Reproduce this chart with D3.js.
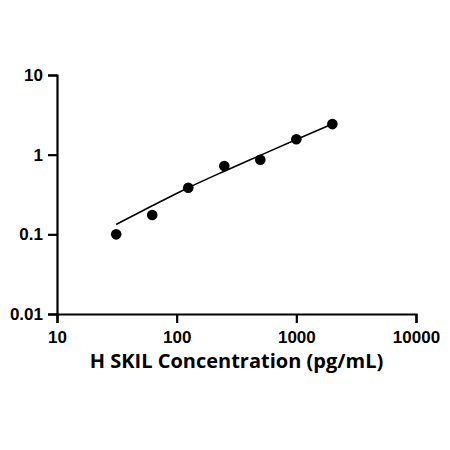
<!DOCTYPE html>
<html>
<head>
<meta charset="utf-8">
<script src="https://cdn.jsdelivr.net/npm/d3@7"></script>
<style>
  body { margin: 0; background: #fff; }
  svg { display: block; }
</style>
</head>
<body>
<svg id="chart" width="450" height="450"></svg>
<script>
// standard points
var concX = [31.25, 62.5, 125, 250, 500, 1000, 2000];
var odY = [0.1, 0.175, 0.385, 0.72, 0.865, 1.56, 2.42];

// fitted curve
var fitX = [31.25, 62.5, 125, 250, 500, 1000, 2000];
var fitY = [0.133, 0.228, 0.385, 0.62, 0.98, 1.55, 2.42];

var xTicks = [10, 100, 1000, 10000];
var yTicks = [0.01, 0.1, 1, 10];
var xTitle = "H SKIL Concentration (pg/mL)";

var margin = { top: 75, right: 34, bottom: 136, left: 57 };
var width = 450 - margin.left - margin.right,
    height = 450 - margin.top - margin.bottom;

var svg = d3.select("#chart");
var g = svg.append("g").attr("transform", "translate(" + margin.left + "," + margin.top + ")");

var x = d3.scaleLog().domain([10, 10000]).range([0, width]);
var y = d3.scaleLog().domain([0.01, 10]).range([height, 0]);

var xAxis = g.append("g")
    .attr("transform", "translate(0," + height + ")")
    .call(d3.axisBottom(x).tickValues(xTicks).tickFormat(d3.format("d")).tickSize(9).tickPadding(5));

var yAxis = g.append("g")
    .call(d3.axisLeft(y).tickValues(yTicks).tickFormat(function(d) { return String(d); }).tickSize(9).tickPadding(5));

[xAxis, yAxis].forEach(function(a) {
    a.select(".domain").attr("stroke", "#000").attr("stroke-width", 2.2);
    a.selectAll(".tick line").attr("stroke", "#000").attr("stroke-width", 2.2);
    a.selectAll(".tick text")
        .attr("fill", "#000")
        .style("font-family", "'Liberation Sans', Arial, sans-serif")
        .style("font-weight", "bold")
        .style("font-size", "17px");
});
xAxis.selectAll(".tick text").attr("dy", "0.9em");

var line = d3.line()
    .x(function(d) { return x(d[0]); })
    .y(function(d) { return y(d[1]); })
    .curve(d3.curveMonotoneX);

g.append("path")
    .datum(d3.zip(fitX, fitY))
    .attr("d", line)
    .attr("fill", "none")
    .attr("stroke", "#000")
    .attr("stroke-width", 1.6);

g.selectAll("circle.pt")
    .data(d3.zip(concX, odY))
    .enter().append("circle")
    .attr("class", "pt")
    .attr("cx", function(d) { return x(d[0]); })
    .attr("cy", function(d) { return y(d[1]); })
    .attr("r", 5.3)
    .attr("fill", "#000");

g.append("text")
    .attr("x", width / 2)
    .attr("y", height + 54)
    .attr("text-anchor", "middle")
    .style("font-family", "'Open Sans', sans-serif")
    .style("font-weight", "bold")
    .style("font-size", "20px")
    .attr("fill", "#000")
    .text(xTitle);
</script>
</body>
</html>
